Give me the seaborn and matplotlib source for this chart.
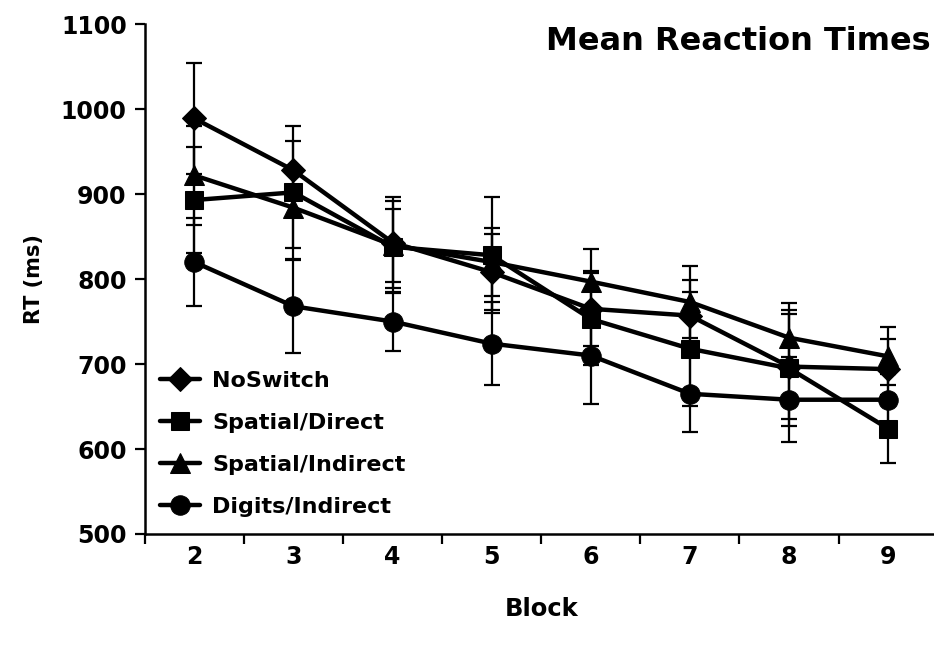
import numpy as np
import pandas as pd
import matplotlib
matplotlib.use('Agg')
import matplotlib.pyplot as plt
from matplotlib.ticker import FixedLocator
import seaborn as sns

# Values
blocks = [2, 3, 4, 5, 6, 7, 8, 9]
conditions = ['NoSwitch', 'Spatial/Direct', 'Spatial/Indirect', 'Digits/Indirect']

no_switch = [989, 928, 843, 808, 765, 757, 697, 694]
no_switch_err = [65, 34, 54, 45, 44, 42, 62, 35]
spatial_direct = [893, 902, 838, 828, 753, 718, 695, 624]
spatial_direct_err = [62, 78, 54, 68, 54, 67, 68, 40]
spatial_indirect = [922, 884, 840, 820, 797, 773, 731, 709]
spatial_indirect_err = [58, 47, 43, 40, 38, 42, 41, 34]
digits_indirect = [820, 768, 750, 724, 710, 665, 658, 658]
digits_indirect_err = [52, 55, 35, 49, 57, 45, 50, 30]

means = [no_switch, spatial_direct, spatial_indirect, digits_indirect]
errs = [no_switch_err, spatial_direct_err, spatial_indirect_err, digits_indirect_err]
markers = ['D', 's', '^', 'o']
msizes = [12.5, 12.5, 14, 14]

# Long-form table for seaborn
df = pd.DataFrame({
    'Block': blocks * 4,
    'RT': sum(means, []),
    'SE': sum(errs, []),
    'Condition': np.repeat(conditions, len(blocks)),
})

sns.set_style('white')
plt.rcParams['font.family'] = ['DejaVu Sans']
plt.rcParams['font.weight'] = 'bold'
plt.rcParams['text.color'] = 'black'
plt.rcParams['axes.labelcolor'] = 'black'
plt.rcParams['xtick.color'] = 'black'
plt.rcParams['ytick.color'] = 'black'

fig = plt.figure(figsize=(9.34, 6.52), dpi=100)
ax = fig.add_axes([0.155, 0.181, 0.849, 0.782])

# Error bars first so the lines sit on top
for cond in conditions:
    sub = df[df['Condition'] == cond]
    ax.errorbar(sub['Block'], sub['RT'], yerr=sub['SE'], fmt='none',
                ecolor='black', elinewidth=1.6, capsize=5.5, capthick=1.6, zorder=2)

for cond, m, ms in zip(conditions, markers, msizes):
    sub = df[df['Condition'] == cond]
    sns.lineplot(data=sub, x='Block', y='RT', ax=ax, color='black', linewidth=3.2,
                 marker=m, markersize=ms, markeredgecolor='black', label=cond, zorder=3)

ax.set_xlim(1.5, 9.5)
ax.set_ylim(500, 1100)
ax.set_yticks(range(500, 1101, 100))
ax.set_xticks(blocks)
ax.xaxis.set_minor_locator(FixedLocator(np.arange(1.5, 9.6, 1.0)))
ax.tick_params(axis='x', which='major', length=0, pad=8, labelsize=17)
ax.tick_params(axis='x', which='minor', length=7, width=1.6, direction='out', bottom=True)
ax.tick_params(axis='y', which='major', length=7, width=1.6, direction='out', left=True,
               pad=6, labelsize=17)
for lab in ax.get_xticklabels() + ax.get_yticklabels():
    lab.set_fontweight('bold')

sns.despine(ax=ax)
ax.spines['left'].set_linewidth(1.8)
ax.spines['bottom'].set_linewidth(1.8)
ax.spines['left'].set_color('black')
ax.spines['bottom'].set_color('black')

ax.set_xlabel('Block', fontsize=17.5, fontweight='bold', labelpad=20)
ax.set_ylabel('RT (ms)', fontsize=15, fontweight='bold', labelpad=12)

fig.text(0.996, 0.937, 'Mean Reaction Times', ha='right', va='center',
         fontsize=23, fontweight='bold')

ax.legend(loc='upper left', bbox_to_anchor=(0.008, 0.338), frameon=False,
          prop={'weight': 'bold', 'size': 16}, handlelength=1.8,
          labelspacing=1.0, handletextpad=0.55, borderaxespad=0)

fig.savefig('out.png', dpi=100)
